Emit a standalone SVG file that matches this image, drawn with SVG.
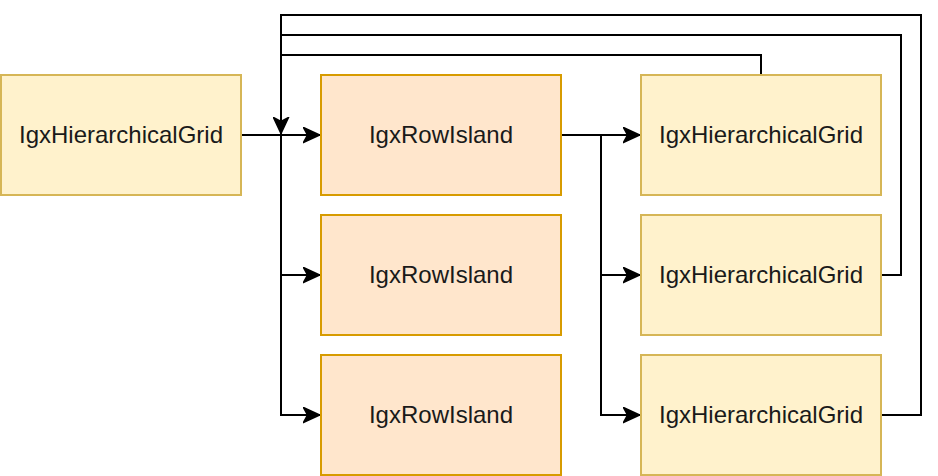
<svg xmlns="http://www.w3.org/2000/svg" width="938" height="476" viewBox="0 0 938 476">
<style>
.grid{fill:#fff2cc;stroke:#d6b656;stroke-width:2}
.island{fill:#ffe6cc;stroke:#d79b00;stroke-width:2}
text{font-family:"Liberation Sans",Arial,sans-serif;font-size:24px;fill:#1a1a1a;text-anchor:middle}
.c{fill:none;stroke:#000;stroke-width:2}
</style>
<defs>
<marker id="a" viewBox="0 0 18 17" refX="17.5" refY="8.5" markerWidth="18" markerHeight="17" markerUnits="userSpaceOnUse" orient="auto">
<path d="M1,1 L17,8.5 L1,16 L5,8.5 Z" fill="#000" stroke="#000" stroke-width="1.5" stroke-linejoin="miter"/>
</marker>
</defs>
<rect width="938" height="476" fill="#fff"/>
<g id="connectors">
<path class="c" d="M241,135 H320" marker-end="url(#a)"/>
<path class="c" d="M281,135 V415 H320" marker-end="url(#a)"/>
<path class="c" d="M281,275 H320" marker-end="url(#a)"/>
<path class="c" d="M561,135 H640" marker-end="url(#a)"/>
<path class="c" d="M601,135 V415 H640" marker-end="url(#a)"/>
<path class="c" d="M601,275 H640" marker-end="url(#a)"/>
<path class="c" d="M761,75 V55 H281 V134" marker-end="url(#a)"/>
<path class="c" d="M881,275 H901 V35 H281 V134"/>
<path class="c" d="M881,415 H921 V15 H281 V134"/>
</g>
<g id="grid0"><rect class="grid" x="1" y="75" width="240" height="120"/><text x="121" y="143">IgxHierarchicalGrid</text></g>
<g id="island1"><rect class="island" x="321" y="75" width="240" height="120"/><text x="441" y="143">IgxRowIsland</text></g>
<g id="island2"><rect class="island" x="321" y="215" width="240" height="120"/><text x="441" y="283">IgxRowIsland</text></g>
<g id="island3"><rect class="island" x="321" y="355" width="240" height="120"/><text x="441" y="423">IgxRowIsland</text></g>
<g id="grid1"><rect class="grid" x="641" y="75" width="240" height="120"/><text x="761" y="143">IgxHierarchicalGrid</text></g>
<g id="grid2"><rect class="grid" x="641" y="215" width="240" height="120"/><text x="761" y="283">IgxHierarchicalGrid</text></g>
<g id="grid3"><rect class="grid" x="641" y="355" width="240" height="120"/><text x="761" y="423">IgxHierarchicalGrid</text></g>
</svg>
